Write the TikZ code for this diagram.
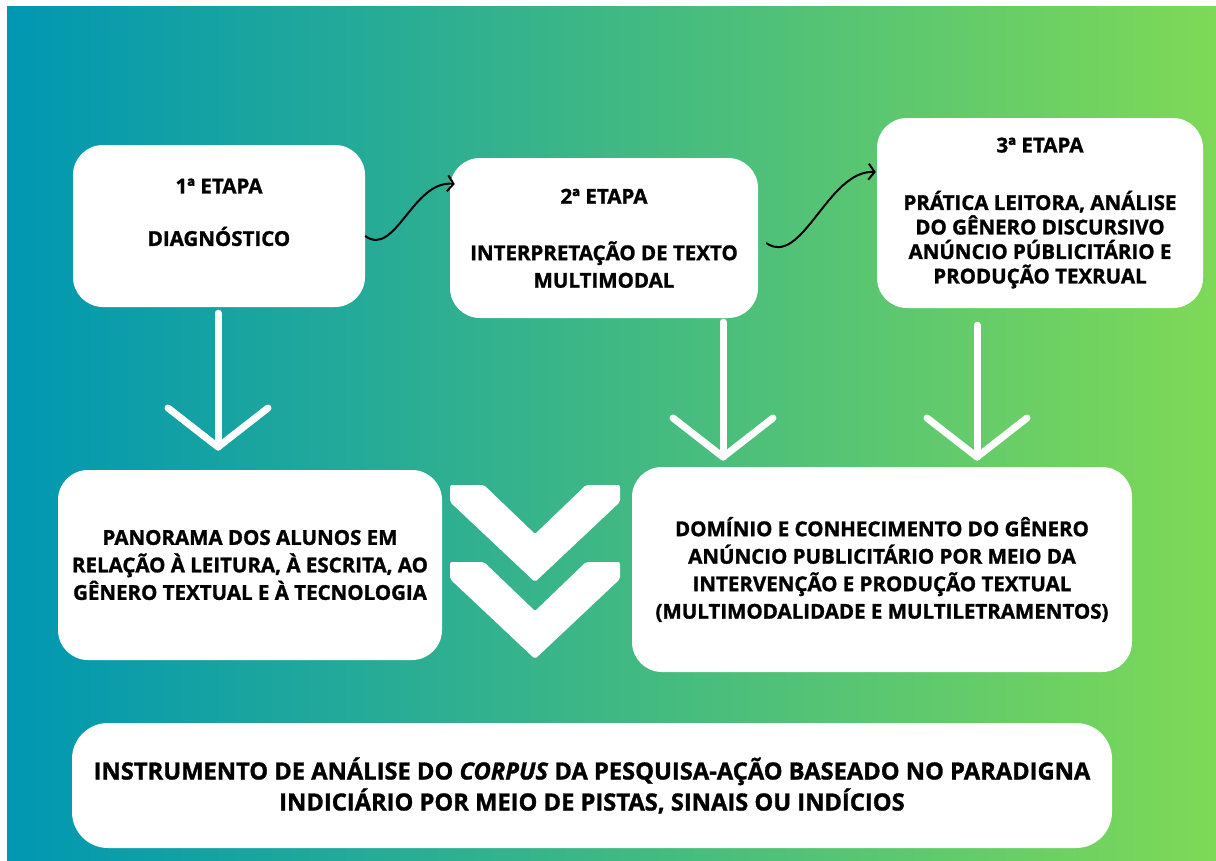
\documentclass[tikz,border=0pt]{standalone}
\usepackage{fontspec}
\setmainfont{Open Sans}[BoldFeatures={FakeBold=1.3}, BoldItalicFeatures={FakeBold=1.3}]
\usetikzlibrary{arrows.meta}

\definecolor{azulcanva}{HTML}{0097B2}
\definecolor{verdecanva}{HTML}{7ED957}

\tikzset{
    caixa/.style={fill=white, rounded corners=30pt, align=center, inner sep=0pt,
        font=\bfseries\fontsize{20.5}{27.5}\selectfont},
    seta/.style={white, line width=7pt, line cap=round, line join=round},
    curva/.style={black, line width=2pt, -{Straight Barb[length=6pt,width=16pt]}},
}

\begin{document}
\begin{tikzpicture}[x=1pt, y=-1pt]
    \useasboundingbox (0,0) rectangle (1216,860);
    \fill[white] (0,0) rectangle (1216,860);
    \shade[left color=azulcanva, right color=verdecanva] (7,6) rectangle (1216,860);

    \node[caixa, minimum width=292pt, minimum height=162pt] (etapa1) at (219,226)
        {1ª ETAPA\\[25pt]DIAGNÓSTICO\\[0pt]\mbox{}};
    \node[caixa, minimum width=308pt, minimum height=160pt] (etapa2) at (604,238)
        {\mbox{}\\[-12pt]2ª ETAPA\\[29pt]INTERPRETAÇÃO DE TEXTO\\MULTIMODAL};
    \node[caixa, minimum width=326pt, minimum height=190pt,
          font=\bfseries\fontsize{20.5}{24.5}\selectfont] (etapa3) at (1040,213)
        {3ª ETAPA\\[33pt]PRÁTICA LEITORA, ANÁLISE\\DO GÊNERO DISCURSIVO\\ANÚNCIO PÚBLICITÁRIO E\\PRODUÇÃO TEXRUAL};

    \node[caixa, minimum width=384pt, minimum height=190pt] (panorama) at (250,565)
        {PANORAMA DOS ALUNOS EM\\RELAÇÃO À LEITURA, À ESCRITA, AO\\GÊNERO TEXTUAL E À TECNOLOGIA};
    \node[caixa, minimum width=500pt, minimum height=205pt] (dominio) at (882,569.5)
        {DOMÍNIO E CONHECIMENTO DO GÊNERO\\ANÚNCIO PUBLICITÁRIO POR MEIO DA\\INTERVENÇÃO E PRODUÇÃO TEXTUAL\\(MULTIMODALIDADE E MULTILETRAMENTOS)};

    \node[caixa, rounded corners=36pt, minimum width=1040pt, minimum height=125pt,
          font=\bfseries\fontsize{23.7}{31}\selectfont] (instrumento) at (592,785.5)
        {INSTRUMENTO DE ANÁLISE DO \textit{CORPUS} DA PESQUISA-AÇÃO BASEADO NO PARADIGNA\\INDICIÁRIO POR MEIO DE PISTAS, SINAIS OU INDÍCIOS};

    % setas curvas entre as etapas
    \draw[curva] ([yshift=-10pt]etapa1.east) .. controls +(30,22) and +(-42,-4) .. ([shift={(5pt,54pt)}]etapa2.west);
    \draw[curva] ([shift={(8pt,-5pt)}]etapa2.east) .. controls +(36,25) and +(-48,-2) .. ([shift={(-1pt,41pt)}]etapa3.west);

    % setas brancas para baixo
    \coordinate (s1) at (218,447);
    \coordinate (s2) at (723,457);
    \coordinate (s3) at (977,457);
    \foreach \de/\s/\folga in {etapa1/s1/6pt, etapa2/s2/4pt, etapa3/s3/17pt} {
        \draw[seta, shorten <=\folga] (\de.south -| \s) -- (\s);
        \draw[seta] ([shift={(-50pt,39pt)}]\s) -- (\s) -- ([shift={(50pt,39pt)}]\s);
    }

    % duplo chevron
    \foreach \dy in {0,77} {
        \fill[white, rounded corners=2pt, shift={(0,\dy)}]
            (450,485) -- (484,485) -- (535,534) -- (586,485) -- (620,485)
            -- (620,502) -- (535,582) -- (450,502) -- cycle;
    }
\end{tikzpicture}
\end{document}
